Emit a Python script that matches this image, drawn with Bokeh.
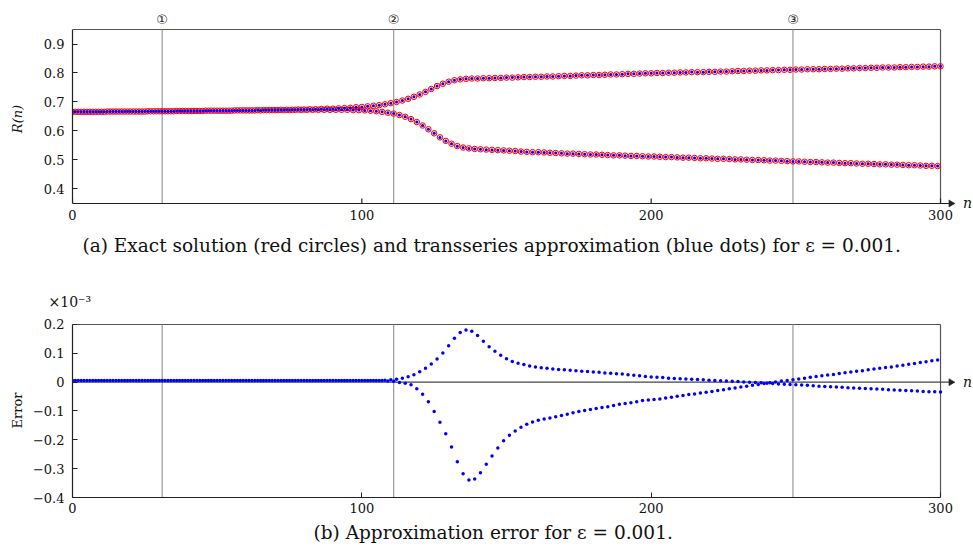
import math
from bokeh.plotting import figure
from bokeh.layouts import column
from bokeh.models import FixedTicker, CustomJSTickFormatter, Range1d, LinearAxis, Title
from bokeh.core.properties import value
from bokeh.embed import file_html
from bokeh.resources import INLINE

# ---------------- data ----------------
n_even = list(range(0, 301, 2))
n_odd = list(range(1, 300, 2))

# exact solution R(n), branch through even n (upper after the split)
R_even = [
    0.666, 0.666, 0.666, 0.666, 0.666, 0.666, 0.667, 0.667, 0.667, 0.667,
    0.667, 0.667, 0.667, 0.668, 0.668, 0.668, 0.668, 0.668, 0.669, 0.669,
    0.669, 0.669, 0.669, 0.670, 0.670, 0.670, 0.670, 0.670, 0.671, 0.671,
    0.671, 0.671, 0.672, 0.672, 0.672, 0.672, 0.673, 0.673, 0.673, 0.674,
    0.674, 0.675, 0.675, 0.676, 0.677, 0.677, 0.678, 0.679, 0.680, 0.682,
    0.683, 0.685, 0.687, 0.689, 0.692, 0.696, 0.700, 0.705, 0.711, 0.718,
    0.726, 0.735, 0.745, 0.755, 0.763, 0.770, 0.775, 0.778, 0.780, 0.781,
    0.781, 0.782, 0.782, 0.783, 0.783, 0.784, 0.784, 0.785, 0.786, 0.786,
    0.787, 0.787, 0.788, 0.788, 0.789, 0.790, 0.790, 0.791, 0.792, 0.792,
    0.793, 0.793, 0.794, 0.795, 0.795, 0.796, 0.797, 0.797, 0.798, 0.799,
    0.799, 0.800, 0.800, 0.801, 0.801, 0.802, 0.802, 0.803, 0.803, 0.803,
    0.804, 0.804, 0.805, 0.805, 0.806, 0.807, 0.807, 0.808, 0.808, 0.809,
    0.809, 0.810, 0.810, 0.811, 0.811, 0.812, 0.812, 0.813, 0.813, 0.813,
    0.814, 0.814, 0.815, 0.815, 0.816, 0.816, 0.817, 0.817, 0.818, 0.818,
    0.819, 0.819, 0.819, 0.820, 0.820, 0.821, 0.821, 0.822, 0.822, 0.823,
    0.823,
]

# exact solution R(n), branch through odd n (lower after the split)
R_odd = [
    0.666, 0.666, 0.666, 0.666, 0.666, 0.666, 0.667, 0.667, 0.667, 0.667,
    0.667, 0.667, 0.667, 0.668, 0.668, 0.668, 0.668, 0.668, 0.669, 0.669,
    0.669, 0.669, 0.669, 0.670, 0.670, 0.670, 0.670, 0.670, 0.671, 0.671,
    0.671, 0.671, 0.671, 0.672, 0.672, 0.672, 0.672, 0.672, 0.673, 0.673,
    0.673, 0.673, 0.673, 0.673, 0.673, 0.673, 0.673, 0.673, 0.672, 0.672,
    0.671, 0.670, 0.668, 0.666, 0.663, 0.660, 0.655, 0.649, 0.641, 0.631,
    0.619, 0.606, 0.592, 0.578, 0.566, 0.556, 0.548, 0.543, 0.540, 0.538,
    0.537, 0.536, 0.535, 0.534, 0.533, 0.532, 0.531, 0.529, 0.528, 0.527,
    0.527, 0.526, 0.525, 0.524, 0.523, 0.522, 0.522, 0.521, 0.520, 0.519,
    0.519, 0.518, 0.517, 0.516, 0.516, 0.515, 0.514, 0.514, 0.513, 0.512,
    0.512, 0.511, 0.510, 0.510, 0.509, 0.508, 0.508, 0.507, 0.506, 0.506,
    0.505, 0.504, 0.504, 0.503, 0.502, 0.502, 0.501, 0.500, 0.500, 0.499,
    0.498, 0.498, 0.497, 0.496, 0.495, 0.495, 0.494, 0.493, 0.493, 0.492,
    0.491, 0.491, 0.490, 0.489, 0.489, 0.488, 0.487, 0.487, 0.486, 0.485,
    0.485, 0.484, 0.484, 0.483, 0.482, 0.482, 0.481, 0.480, 0.480, 0.479,
]

# approximation error (x 10^-3), even n
err_even = [
    0.006, 0.006, 0.006, 0.006, 0.006, 0.006, 0.006, 0.006, 0.006, 0.006,
    0.006, 0.006, 0.006, 0.006, 0.006, 0.006, 0.006, 0.006, 0.006, 0.006,
    0.006, 0.006, 0.006, 0.006, 0.006, 0.006, 0.006, 0.006, 0.006, 0.006,
    0.006, 0.006, 0.006, 0.006, 0.006, 0.006, 0.006, 0.006, 0.006, 0.006,
    0.006, 0.006, 0.006, 0.006, 0.006, 0.006, 0.006, 0.006, 0.006, 0.006,
    0.006, 0.006, 0.006, 0.006, 0.007, 0.008, 0.010, 0.014, 0.019, 0.026,
    0.036, 0.048, 0.063, 0.080, 0.101, 0.126, 0.152, 0.172, 0.181, 0.177,
    0.162, 0.142, 0.123, 0.107, 0.093, 0.081, 0.072, 0.066, 0.061, 0.056,
    0.053, 0.050, 0.048, 0.046, 0.044, 0.043, 0.041, 0.040, 0.038, 0.037,
    0.035, 0.034, 0.032, 0.031, 0.029, 0.028, 0.026, 0.024, 0.022, 0.020,
    0.018, 0.017, 0.016, 0.014, 0.013, 0.012, 0.011, 0.010, 0.009, 0.008,
    0.007, 0.006, 0.005, 0.004, 0.003, 0.002, 0.001, 0.000, -0.001, -0.002,
    -0.004, -0.005, -0.006, -0.007, -0.008, -0.009, -0.010, -0.011, -0.012, -0.014,
    -0.015, -0.016, -0.017, -0.018, -0.019, -0.020, -0.021, -0.022, -0.023, -0.024,
    -0.025, -0.026, -0.027, -0.028, -0.029, -0.030, -0.031, -0.032, -0.033, -0.033,
    -0.034,
]

# approximation error (x 10^-3), odd n
err_odd = [
    0.006, 0.006, 0.006, 0.006, 0.006, 0.006, 0.006, 0.006, 0.006, 0.006,
    0.006, 0.006, 0.006, 0.006, 0.006, 0.006, 0.006, 0.006, 0.006, 0.006,
    0.006, 0.006, 0.006, 0.006, 0.006, 0.006, 0.006, 0.006, 0.006, 0.006,
    0.006, 0.006, 0.006, 0.006, 0.006, 0.006, 0.006, 0.006, 0.006, 0.006,
    0.006, 0.006, 0.006, 0.006, 0.006, 0.006, 0.006, 0.006, 0.006, 0.006,
    0.006, 0.006, 0.006, 0.006, 0.004, 0.003, -0.001, -0.004, -0.009, -0.023,
    -0.042, -0.068, -0.102, -0.139, -0.179, -0.225, -0.276, -0.318, -0.339, -0.336,
    -0.314, -0.285, -0.256, -0.228, -0.203, -0.184, -0.169, -0.156, -0.146, -0.138,
    -0.132, -0.128, -0.124, -0.120, -0.116, -0.111, -0.106, -0.102, -0.098, -0.095,
    -0.091, -0.088, -0.085, -0.081, -0.077, -0.074, -0.071, -0.068, -0.064, -0.062,
    -0.060, -0.058, -0.055, -0.052, -0.049, -0.046, -0.043, -0.041, -0.038, -0.035,
    -0.032, -0.029, -0.026, -0.023, -0.020, -0.017, -0.014, -0.011, -0.008, -0.005,
    -0.002, 0.001, 0.004, 0.006, 0.008, 0.011, 0.014, 0.017, 0.020, 0.022,
    0.025, 0.027, 0.030, 0.033, 0.035, 0.038, 0.040, 0.043, 0.046, 0.048,
    0.051, 0.053, 0.056, 0.059, 0.062, 0.065, 0.068, 0.071, 0.074, 0.077,
]

# transseries approximation = exact + error
approx_even = [r + e * 1e-3 for r, e in zip(R_even, err_even)]
approx_odd = [r + e * 1e-3 for r, e in zip(R_odd, err_odd)]

marker_n = [31, 111, 249]
marker_labels = ["\u2460", "\u2461", "\u2462"]
x_ticks = [0, 100, 200, 300]
top_y_ticks = [0.4, 0.5, 0.6, 0.7, 0.8, 0.9]
bot_y_ticks = [-0.4, -0.3, -0.2, -0.1, 0.0, 0.1, 0.2]

caption_a = "(a) Exact solution (red circles) and transseries approximation (blue dots) for \u03b5 = 0.001."
caption_b = "(b) Approximation error for \u03b5 = 0.001."
scale_label = "\u00d710\u207b\u00b3"

FONT = "DejaVu Serif"
FRAME_C = "#555555"
AXIS_C = "#222222"
YFMT = CustomJSTickFormatter(code="return Math.abs(tick) < 1e-9 ? '0' : tick.toFixed(1).replace('-', '\u2212');")
XFMT = CustomJSTickFormatter(code="return tick.toFixed(0);")

XMAX = 311.4          # room right of n = 300 for the axis arrow and its label
PX_Y = 289.0          # pixels per unit on both y axes (0.1 -> 28.9 px)


def make_fig(ymin, ymax, yticks, ylabel, ylab_standoff, pad_bot, top_border, bottom_border):
    p = figure(width=973, height=278,
               x_range=Range1d(0, XMAX),
               y_range=Range1d(ymin - pad_bot / PX_Y, ymax + 1.0 / PX_Y),
               output_backend="svg", toolbar_location=None,
               min_border_left=72, min_border_right=0,
               min_border_top=top_border, min_border_bottom=bottom_border)
    p.background_fill_color = "white"
    p.border_fill_color = "white"
    p.outline_line_color = None
    p.grid.visible = False
    p.xaxis.ticker = FixedTicker(ticks=x_ticks)
    p.yaxis.ticker = FixedTicker(ticks=yticks)
    p.xaxis.formatter = XFMT
    p.yaxis.formatter = YFMT
    p.xaxis.bounds = (0, 300)
    p.yaxis.bounds = (ymin, ymax)
    for ax in (p.xaxis[0], p.yaxis[0]):
        ax.major_tick_in = 5
        ax.major_tick_out = 0
        ax.minor_tick_line_color = None
        ax.major_tick_line_color = AXIS_C
        ax.axis_line_color = AXIS_C
        ax.axis_line_width = 1.2
        ax.major_label_text_font = FONT
        ax.major_label_text_font_size = "13px"
        ax.major_label_text_color = "#111111"
    p.xaxis.major_label_standoff = 5
    p.yaxis.major_label_standoff = 8
    p.yaxis.axis_label = ylabel
    p.yaxis.axis_label_text_font = FONT
    p.yaxis.axis_label_text_font_size = "13px"
    p.yaxis.axis_label_text_font_style = "normal"
    p.yaxis.axis_label_text_color = "#111111"
    p.yaxis.axis_label_standoff = ylab_standoff
    # top and right edges of the box
    p.segment(x0=[0, 300], y0=[ymax, ymin], x1=[300, 300], y1=[ymax, ymax],
              line_color=FRAME_C, line_width=1.2)
    # vertical marker lines
    p.segment(x0=marker_n, y0=[ymin] * len(marker_n), x1=marker_n, y1=[ymax] * len(marker_n),
              line_color="#999999", line_width=1.2)
    return p


def add_arrow_axis(p, y0, x_from, line_color):
    p.segment(x0=[x_from], y0=[y0], x1=[303.2], y1=[y0], line_color=line_color, line_width=1.2)
    p.scatter([303.6], [y0], marker="triangle", size=7, angle=-math.pi / 2,
              fill_color=AXIS_C, line_color=AXIS_C, line_width=0.5)
    p.text(x=[307.8], y=[y0], text=["n"], text_font=value(FONT), text_font_style="italic",
           text_font_size="14px", text_baseline="middle", text_align="left", text_color="#111111")


# ---------------- top panel ----------------
PAD = 6
p1 = make_fig(0.35, 0.95, top_y_ticks, "R(n)", 16, PAD, 28, 69)
p1.yaxis.axis_label_text_font_style = "italic"
# the x axis sits PAD px above the frame bottom: its line and ticks are drawn as glyphs,
# the regular axis only carries the tick labels
p1.xaxis.axis_line_color = None
p1.xaxis.major_tick_line_color = None
p1.xaxis.major_label_standoff = 0
p1.segment(x0=x_ticks, y0=[0.35] * len(x_ticks), x1=x_ticks, y1=[0.35 + 5 / PX_Y] * len(x_ticks),
           line_color=AXIS_C, line_width=1.2)
add_arrow_axis(p1, 0.35, 0, AXIS_C)
p1.scatter(n_even, R_even, size=5.5, marker="circle", fill_color="red", fill_alpha=0.15,
           line_color="red", line_width=1)
p1.scatter(n_odd, R_odd, size=5.5, marker="circle", fill_color="red", fill_alpha=0.15,
           line_color="red", line_width=1)
p1.scatter(n_even, approx_even, size=3, marker="circle", fill_color="blue", line_color=None)
p1.scatter(n_odd, approx_odd, size=3, marker="circle", fill_color="blue", line_color=None)
top_axis = LinearAxis(ticker=FixedTicker(ticks=marker_n),
                      major_label_overrides=dict(zip(marker_n, marker_labels)),
                      axis_line_color=None, major_tick_line_color=None, minor_tick_line_color=None,
                      major_label_standoff=-4, major_label_text_font="DejaVu Sans",
                      major_label_text_font_size="13px", major_label_text_color="#222222")
p1.add_layout(top_axis, "above")
p1.add_layout(Title(text=caption_a, align="left", offset=10, standoff=20,
                    text_font=FONT, text_font_size="18.5px", text_font_style="normal",
                    text_color="#111111"), "below")

# ---------------- bottom panel ----------------
p2 = make_fig(-0.4, 0.2, bot_y_ticks, "Error", 5, 0, 44, 59)
add_arrow_axis(p2, 0.0, 0, "#444444")
p2.scatter(n_even, err_even, size=3.5, marker="circle", fill_color="blue", line_color=None)
p2.scatter(n_odd, err_odd, size=3.5, marker="circle", fill_color="blue", line_color=None)
p2.add_layout(Title(text=scale_label, align="left", offset=-24, standoff=27,
                    text_font=FONT, text_font_size="14px", text_font_style="normal",
                    text_color="#111111"), "above")
p2.add_layout(Title(text=caption_b, align="left", offset=241, standoff=9,
                    text_font=FONT, text_font_size="18.5px", text_font_style="normal",
                    text_color="#111111"), "below")

layout = column(p1, p2, spacing=0)
open("out.html", "w").write(file_html(layout, INLINE))
